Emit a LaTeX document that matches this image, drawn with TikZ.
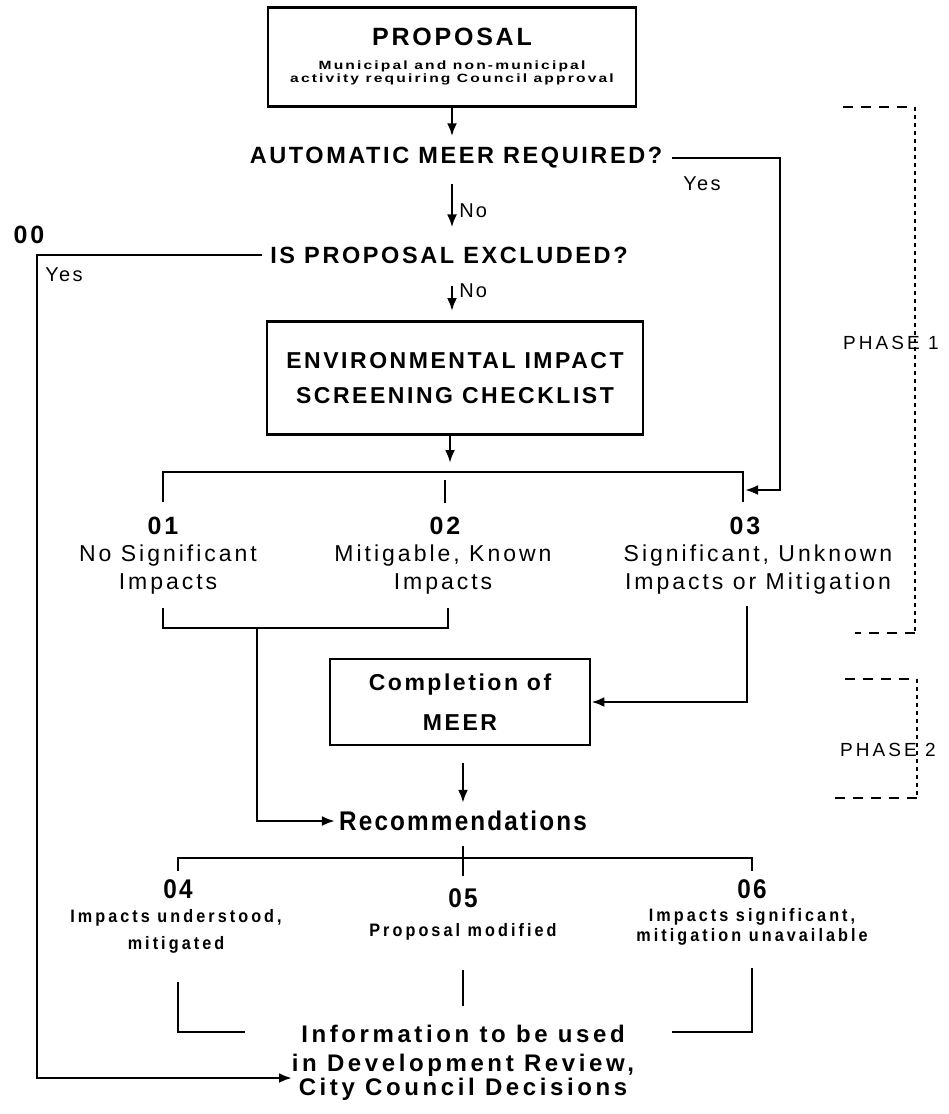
\documentclass[tikz,border=0pt]{standalone}
\usepackage{fontspec}
\setmainfont{Liberation Sans}
\usetikzlibrary{arrows.meta}
\newfontfamily\lsfont[LetterSpace=11]{Liberation Sans}
\newfontfamily\wdfont[LetterSpace=13]{Liberation Sans}
\newfontfamily\phfont[LetterSpace=16]{Liberation Sans}
\newfontfamily\extfont[LetterSpace=18,FakeStretch=1.3]{Liberation Sans}
\newfontfamily\cdfont[LetterSpace=8,FakeStretch=0.9]{Liberation Sans}
\newfontfamily\cdsmfont[LetterSpace=17,FakeStretch=0.9]{Liberation Sans}
\newfontfamily\infofont[LetterSpace=15]{Liberation Sans}
\newcommand\fprop{\lsfont\bfseries\fontsize{25}{30}\selectfont}
\newcommand\fsub{\extfont\bfseries\fontsize{12}{12}\selectfont}
\newcommand\fhead{\lsfont\bfseries\fontsize{23.5}{35}\selectfont}
\newcommand\fboxed{\lsfont\bfseries\fontsize{23}{35}\selectfont}
\newcommand\fmeer{\lsfont\bfseries\fontsize{23}{40}\selectfont}
\newcommand\fdesc{\wdfont\fontsize{23}{28}\selectfont}
\newcommand\fnum{\lsfont\bfseries\fontsize{25}{30}\selectfont}
\newcommand\flab{\lsfont\fontsize{20}{20}\selectfont}
\newcommand\fphase{\phfont\fontsize{19}{20}\selectfont}
\newcommand\fcond{\cdfont\bfseries\fontsize{27}{30}\selectfont}
\newcommand\fcnum{\cdfont\bfseries\fontsize{27}{30}\selectfont}
\newcommand\fsmall{\cdsmfont\bfseries\fontsize{18}{27}\selectfont}
\newcommand\fsmalltight{\cdsmfont\bfseries\fontsize{18}{20}\selectfont}
\newcommand\finfo{\infofont\bfseries\fontsize{24}{30}\selectfont}
\begin{document}
\begin{tikzpicture}[x=1pt,y=-1pt,
  box/.style={draw,line width=2.8pt,rectangle,inner sep=0pt,align=center},
  txt/.style={inner sep=0pt,align=center},
  ln/.style={line width=2.6pt},
  arr/.style={line width=2.6pt,-{Latex[length=13pt,width=10pt]}},
  dashline/.style={line width=2.2pt,dash pattern=on 10pt off 8pt},
  dotline/.style={line width=2.2pt,dash pattern=on 4pt off 4pt}]
\useasboundingbox (0,0) rectangle (948,1114);

% phase 1 part of the flow
\node[box,minimum width=368pt,minimum height=99pt] (prop) at (452,57)
  {{\fprop PROPOSAL}\\[12pt]{\fsub Municipal and non-municipal}\\[1pt]{\fsub activity requiring Council approval}};
\node[txt,inner ysep=11pt,inner xsep=10pt] (auto) at (456,158) {\fhead AUTOMATIC MEER REQUIRED?};
\node[txt,inner ysep=11pt,inner xsep=8pt] (excl) at (449,255) {\fhead IS PROPOSAL EXCLUDED?};
\node[box,minimum width=376pt,minimum height=113pt,font=\fboxed] (check) at (455,378)
  {ENVIRONMENTAL IMPACT\\SCREENING CHECKLIST};

\draw[arr] (prop.south) -- (prop.south |- auto.north);
\draw[arr,shorten <=4pt,shorten >=8pt] (auto.south -| prop.south) -- (excl.north -| prop.south)
  node[txt,pos=0.55,right=6pt] (no1) {\flab No};
\draw[arr,shorten <=11pt,shorten >=9pt] (excl.south -| prop.south) -- (check.north -| prop.south)
  node[txt,pos=0.35,right=6pt] (no2) {\flab No};

% outcome bracket 01 / 02 / 03
\coordinate (b1) at (163,502);
\coordinate (b3t) at (743,472);
\coordinate (b3) at (743,502);
\coordinate (brk) at (450,472);
\draw[arr,shorten >=9pt] (check.south -| brk) -- (brk);
\draw[ln] (b1) |- (b3t) -- (b3);
\draw[ln] (445,480) -- (445,503);

\node[txt] (o1) at (163,526) {\fnum 01};
\node[txt] (o2) at (445,526) {\fnum 02};
\node[txt] (o3) at (745,526) {\fnum 03};
\node[txt,font=\fdesc] (d1) at (168,570) {No Significant\\Impacts};
\node[txt,font=\fdesc] (d2) at (443,570) {Mitigable, Known\\Impacts};
\node[txt,font=\fdesc] (d3) at (758,570) {Significant, Unknown\\Impacts or Mitigation};

% automatic MEER path
\coordinate (yc) at (780,490);
\coordinate (c3in) at (745,490);
\draw[arr] (auto.east) -| (yc) -- (c3in);
\node[txt] (yes1) at (702,184) {\flab Yes};

% exclusion path
\coordinate (lc) at (37,1078);
\node[txt] (z0) at (29,235) {\fnum 00};
\node[txt] (yes0) at (64,275) {\flab Yes};

% phase 2
\node[box,minimum width=260pt,minimum height=86pt,font=\fmeer] (meer) at (460,702)
  {Completion of\\MEER};
\coordinate (m12) at (257,628);
\draw[ln] (163,608) |- (448,628) -- (448,608);
\coordinate (c3b) at (747,606);
\draw[arr] (c3b) |- (meer.east);

\node[txt] (rec) at (463,821) {\fcond Recommendations};
\draw[arr,shorten <=17pt,shorten >=8pt] (meer.south -| rec.north) -- (rec.north);
\draw[arr,shorten >=4pt] (m12) |- (rec.west);

% recommendations bracket
\draw[ln] (178,871) |- (752,858) -- (752,871);
\draw[ln] (463,846) -- (463,876);
\node[txt] (o4) at (178,889) {\fcnum 04};
\node[txt] (o5) at (463,898) {\fcnum 05};
\node[txt] (o6) at (752,889) {\fcnum 06};
\node[txt,font=\fsmall] (d4) at (176,931) {Impacts understood,\\mitigated};
\node[txt,font=\fsmall] (d5) at (463,932) {Proposal modified};
\node[txt,font=\fsmalltight] (d6) at (752,927) {Impacts significant,\\mitigation unavailable};

\node[txt] (info1) at (463,1034) {\finfo Information to be used};
\node[txt] (info2) at (463,1065) {\finfo in Development Review,};
\node[txt] (info3) at (463,1089) {\finfo City Council Decisions};
\draw[ln] (178,982) |- (245,1032);
\draw[ln] (463,970) -- (463,1006);
\draw[ln] (752,968) |- (672,1032);
\coordinate (infoin) at (292,1078);
\draw[arr] (excl.west) -| (lc) -- (infoin);

% phase brackets
\draw[dashline] (843,107) -- (915,107);
\draw[dotline] (915,107) -- (915,633);
\draw[dashline] (915,633) -- (855,633);
\node[txt,anchor=west] (ph1) at (843,343) {\fphase PHASE 1};
\draw[dashline] (845,679) -- (917,679);
\draw[dotline] (917,679) -- (917,798);
\draw[dashline] (917,798) -- (835,798);
\node[txt,anchor=west] (ph2) at (840,750) {\fphase PHASE 2};
\end{tikzpicture}
\end{document}
